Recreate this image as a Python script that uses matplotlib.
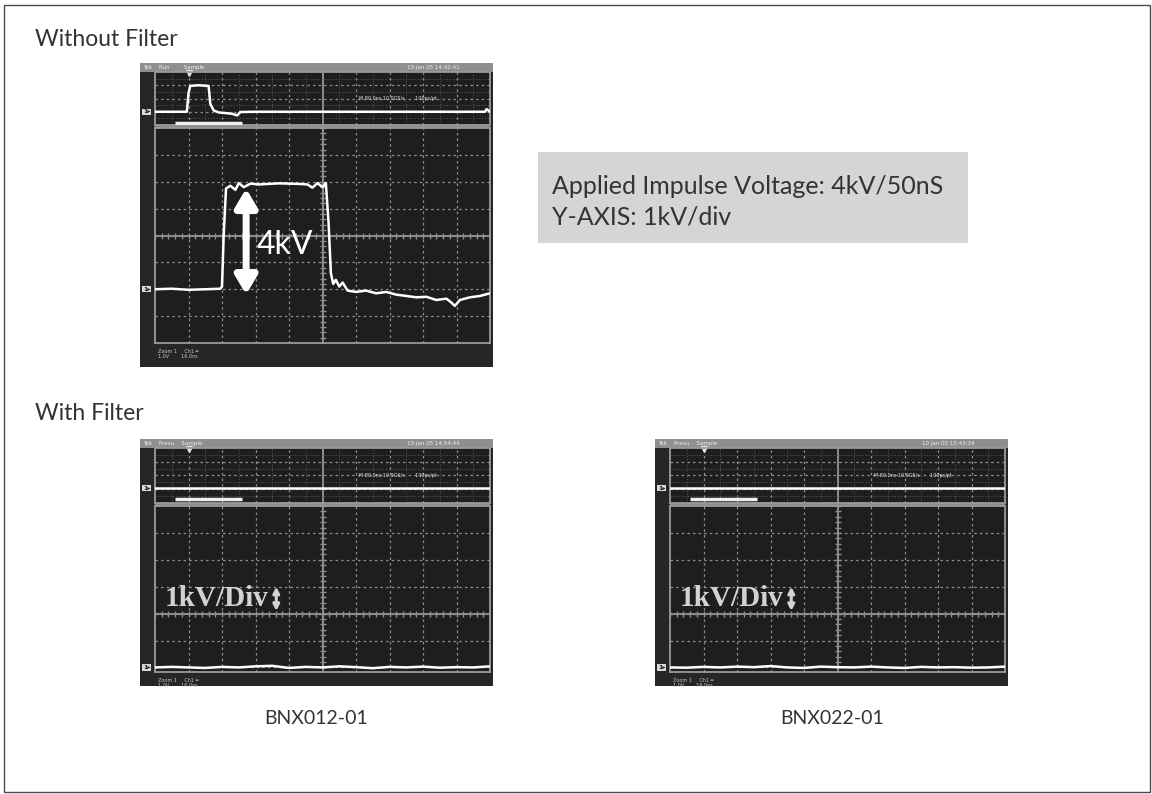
import matplotlib.pyplot as plt
from matplotlib.patches import Rectangle

plt.rcParams['font.family'] = ['Lato', 'DejaVu Sans']

W, H = 1152, 794

# top scope (without filter), main window: time in div (0-10), volts in div (0-8)
pulse_t = [0, 0.5, 1.0, 1.5, 1.95, 2.0, 2.05, 2.12, 2.25, 2.4, 2.5, 2.65, 2.85, 3.1,
           3.4, 3.7, 4.0, 4.3, 4.55, 4.7, 4.85, 5.0, 5.1, 5.18, 5.25, 5.32, 5.4, 5.5,
           5.6, 5.75, 6.0, 6.3, 6.6, 6.9, 7.2, 7.5, 7.8, 8.1, 8.4, 8.7, 8.85, 8.95,
           9.1, 9.4, 9.7, 10.0]
pulse_v = [2.0, 2.02, 1.98, 2.0, 2.02, 2.1, 4.0, 5.75, 5.85, 5.7, 5.95, 5.8, 5.93, 5.9,
           5.92, 5.94, 5.93, 5.92, 5.9, 5.78, 5.95, 5.8, 5.95, 4.5, 2.6, 2.2, 2.35, 2.1,
           2.25, 1.95, 1.9, 1.95, 1.85, 1.9, 1.8, 1.75, 1.7, 1.72, 1.6, 1.65, 1.5, 1.38,
           1.6, 1.7, 1.75, 1.85]
# zoom-window (overview) trace of the top scope, 0-4 units
pulse_zoom_t = [0, 0.5, 0.95, 1.0, 1.05, 1.3, 1.6, 1.65, 1.75, 1.9, 2.1, 2.3, 2.45,
                2.55, 3.0, 5.0, 7.0, 9.0, 9.85, 9.9, 10]
pulse_zoom_v = [1.0, 1.0, 1.0, 2.4, 2.95, 3.0, 2.95, 1.6, 1.1, 0.95, 0.9, 0.85, 0.72,
                0.98, 1.0, 1.0, 1.0, 1.0, 1.0, 1.2, 1.0]

# filtered traces (BNX012-01, BNX022-01)
flat_t = [0, 0.5, 1.0, 1.5, 2.0, 2.5, 3.0, 3.5, 4.0, 4.5, 5.0, 5.5, 6.0, 6.5, 7.0,
          7.5, 8.0, 8.5, 9.0, 9.5, 10.0]
bnx012_v = [2.0, 2.02, 2.0, 1.98, 2.02, 2.0, 2.04, 2.06, 1.98, 2.02, 2.0, 2.04, 2.01,
            1.97, 2.02, 2.0, 2.03, 1.99, 2.01, 2.0, 2.04]
bnx022_v = [2.0, 1.99, 2.02, 2.0, 2.03, 2.01, 2.05, 2.0, 1.98, 2.03, 2.01, 2.0, 2.03,
            2.0, 1.98, 2.02, 2.0, 2.01, 1.99, 2.0, 2.03]
flat_zoom_v = [1.07] * len(flat_t)

fig = plt.figure(figsize=(11.52, 7.94), dpi=100)


def rect(x0, y0, x1, y1):
    return [x0 / W, 1 - y1 / H, (x1 - x0) / W, (y1 - y0) / H]


pg = fig.add_axes([0, 0, 1, 1])
pg.set_xlim(0, W)
pg.set_ylim(H, 0)
pg.axis('off')
pg.add_patch(Rectangle((4, 5), 1146, 787, fill=False, ec='#4a4a4a', lw=1))

GRID = '#8e8e8e'


def style_grid(ax, ymin, ymax, rows):
    ax.set_facecolor('#1e1e1e')
    ax.set_xlim(0, 10)
    ax.set_ylim(ymin, ymax)
    ax.set_xticks([])
    ax.set_yticks([])
    for s in ax.spines.values():
        s.set_color('#9a9a9a')
        s.set_linewidth(1.3)
    for x in range(1, 10):
        ax.axvline(x, color=GRID, lw=1.4 if x == 5 else 0.9,
                   ls='-' if x == 5 else (0, (2, 2.5)))
    for y in rows:
        ax.axhline(y, color=GRID, lw=0.9, ls=(0, (2, 2.5)))


def draw_scope(x0, y0, x1, y1, zoom_bot, main_top, main_bot, main_ymin,
               trace_t, trace_v, zoom_t, zoom_v, bar_y, head, date, big_label):
    gx0, gx1 = x0 + 15, x1 - 3
    pg.add_patch(Rectangle((x0, y0), x1 - x0, y1 - y0, color='#262626', lw=0))
    pg.add_patch(Rectangle((x0, y0), x1 - x0, 9, color='#8f8f8f', lw=0))
    pg.add_patch(Rectangle((gx0, zoom_bot), gx1 - gx0, main_top - zoom_bot,
                           color='#8a8a8a', lw=0))
    pg.text(x0 + 3, y0 + 4.5, head, fontsize=4, color='#f0f0f0', va='center',
            family='DejaVu Sans')
    pg.text(gx1 - 30, y0 + 4.5, date, fontsize=4, color='#f0f0f0', va='center',
            ha='right', family='DejaVu Sans')
    pg.text(gx0 + 3, main_bot + 6, 'Zoom 1     Ch1 ═\n1.0V        16.0ns',
            fontsize=3.5, color='#c8c8c8', va='top', family='DejaVu Sans',
            linespacing=1.1)

    zx = fig.add_axes(rect(gx0, y0 + 9, gx1, zoom_bot))
    style_grid(zx, 0, 4, [1, 2, 3])
    for y in [0.5, 1.5, 2.5, 3.5]:
        zx.axhline(y, color='#5e5e5e', lw=0.7, ls=(0, (1, 2)))
    for x in [0.5, 1.5, 2.5, 3.5, 4.5, 5.5, 6.5, 7.5, 8.5, 9.5]:
        zx.axvline(x, color='#5e5e5e', lw=0.7, ls=(0, (1, 2)))
    zx.plot(zoom_t, zoom_v, color='white', lw=1.8, zorder=5)
    zx.hlines(bar_y, 0.6, 2.6, color='#eeeeee', lw=2.5, zorder=5)
    zx.text(6.1, 2.0, 'M 80.0ns 10.0GS/s       100ps/pt', fontsize=3.5,
            color='#e6e6e6', va='center', family='DejaVu Sans', zorder=6)
    zx.plot([1.0], [3.92], marker='v', color='#e0e0e0', ms=4, clip_on=False)

    mx = fig.add_axes(rect(gx0, main_top, gx1, main_bot))
    style_grid(mx, main_ymin, 8, range(1, 8))
    mx.axhline(4, color=GRID, lw=1.4)
    ticks = [i / 5 for i in range(51)]
    mx.plot(ticks, [4] * len(ticks), ls='none', marker='|', ms=4, color=GRID)
    mx.plot([5] * 41, [i / 5 for i in range(41)], ls='none', marker='_', ms=4,
            color=GRID)
    mx.plot(trace_t, trace_v, color='white', lw=1.8, zorder=5)
    if big_label:
        mx.text(0.3, 4.55, '1kV/Div', fontsize=21, fontweight='bold',
                family='Liberation Serif', color='#d2d2d2', va='center', zorder=6)
        mx.annotate('', xy=(3.62, 5.0), xytext=(3.62, 4.1),
                    arrowprops=dict(arrowstyle='<|-|>,head_length=0.35,head_width=0.18',
                                    color='#d2d2d2', lw=2.2, shrinkA=0, shrinkB=0),
                    zorder=6)

    # channel markers in left strip
    zy = y0 + 9 + (4 - zoom_v[0]) / 4 * (zoom_bot - y0 - 9)
    my = main_top + (8 - trace_v[0]) / (8 - main_ymin) * (main_bot - main_top)
    for yy in (zy, my):
        pg.text(x0 + 3, yy, '1▸', fontsize=4.5, color='#222222', va='center',
                family='DejaVu Sans', fontweight='bold',
                bbox=dict(boxstyle='square,pad=0.1', fc='#d8d8d8', ec='none'))
    return mx


top = draw_scope(140, 63, 493, 367, 125, 128, 343, 0, pulse_t, pulse_v,
                 pulse_zoom_t, pulse_zoom_v, 0.12, 'Tek    Run        Sample',
                 '10 Jan 05 14:42:41', False)
top.annotate('', xy=(2.72, 5.75), xytext=(2.72, 1.8),
             arrowprops=dict(arrowstyle='<|-|>,head_length=1.1,head_width=0.65',
                             color='white', lw=5, shrinkA=0, shrinkB=0), zorder=7)
top.text(3.05, 3.64, '4kV', fontsize=23, color='white', va='center', zorder=7)

draw_scope(140, 439, 493, 686, 503, 506, 672, 1.83, flat_t, bnx012_v,
           flat_t, flat_zoom_v, 0.29, 'Tek    Prevu    Sample',
           '10 Jan 05 14:54:44', True)
draw_scope(655, 439, 1008, 686, 503, 506, 672, 1.83, flat_t, bnx022_v,
           flat_t, flat_zoom_v, 0.29, 'Tek    Prevu    Sample',
           '10 Jan 05 15:43:34', True)

# text panel and captions
pg.add_patch(Rectangle((538, 152), 430, 91, color='#d4d5d7', lw=0))
pg.text(552, 186, 'Applied Impulse Voltage: 4kV/50nS', fontsize=18, color='#333333',
        va='center')
pg.text(552, 217, 'Y-AXIS: 1kV/div', fontsize=18, color='#333333', va='center')
pg.text(35, 40, 'Without Filter', fontsize=16.5, color='#333333', va='center')
pg.text(35, 413, 'With Filter', fontsize=16.5, color='#333333', va='center')
pg.text(316, 718, 'BNX012-01', fontsize=14, color='#333333', va='center', ha='center')
pg.text(832, 718, 'BNX022-01', fontsize=14, color='#333333', va='center', ha='center')

fig.savefig('out.png', dpi=100)
